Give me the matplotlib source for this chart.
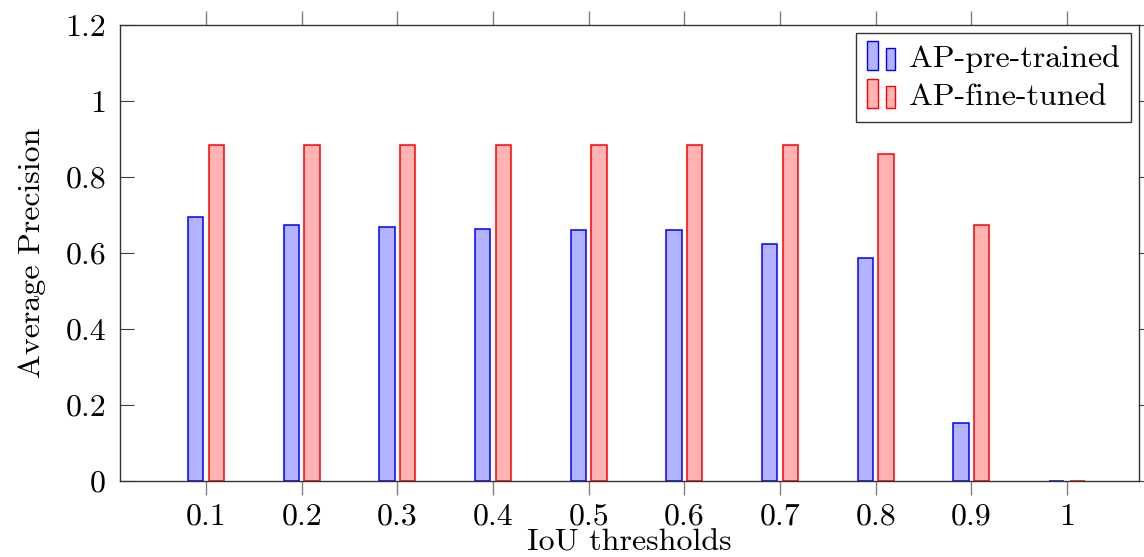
import matplotlib
matplotlib.use("Agg")
import matplotlib.pyplot as plt
from matplotlib.patches import Rectangle
from matplotlib.legend_handler import HandlerBase
import numpy as np

# IoU thresholds and average precision per model
thresholds = [0.1, 0.2, 0.3, 0.4, 0.5, 0.6, 0.7, 0.8, 0.9, 1.0]
tick_labels = ["0.1", "0.2", "0.3", "0.4", "0.5", "0.6", "0.7", "0.8", "0.9", "1"]
ap_pretrained = [0.694, 0.674, 0.668, 0.663, 0.661, 0.661, 0.625, 0.586, 0.153, 0.0]
ap_finetuned = [0.885, 0.885, 0.885, 0.885, 0.885, 0.885, 0.885, 0.860, 0.673, 0.0]
y_ticks = [0, 0.2, 0.4, 0.6, 0.8, 1.0, 1.2]
y_tick_labels = ["0", "0.2", "0.4", "0.6", "0.8", "1", "1.2"]

plt.rcParams["font.family"] = ["cmr10", "DejaVu Serif"]
plt.rcParams["axes.unicode_minus"] = False

BLUE_FILL = "#b3b3ff"
RED_FILL = "#ffb3b3"
FS = 23

fig = plt.figure(figsize=(11.44, 5.57), dpi=100)
ax = fig.add_axes([120 / 1144, 76 / 557, 1019 / 1144, 456 / 557])

x = np.array(thresholds)
width = 0.0162
offset = 0.0108
ax.bar(x - offset, ap_pretrained, width, color=BLUE_FILL, edgecolor="blue",
       linewidth=1.1, label="AP-pre-trained", zorder=2)
ax.bar(x + offset, ap_finetuned, width, color=RED_FILL, edgecolor="red",
       linewidth=1.1, label="AP-fine-tuned", zorder=2)

ax.set_xlim(0.0101, 1.0753)
ax.set_ylim(0, 1.2)

ax.set_xticks(thresholds)
ax.set_xticklabels(tick_labels, fontsize=FS)
ax.set_yticks(y_ticks)
ax.set_yticklabels(y_tick_labels, fontsize=FS)

ax.tick_params(axis="x", direction="out", top=True, bottom=True, length=10,
               width=1.0, color="#808080", pad=6)
ax.tick_params(axis="y", direction="in", left=True, right=False, length=10,
               width=0.8, color="#404040", pad=10)

# right-hand y ticks point outward, without labels
sec = ax.secondary_yaxis("right")
sec.set_yticks(y_ticks)
sec.tick_params(direction="out", length=6, width=0.8, color="#404040",
                labelright=False)
sec.spines["right"].set_visible(False)

for s in ax.spines.values():
    s.set_linewidth(1.0)
    s.set_color("#333333")

ax.set_xlabel("IoU thresholds", fontsize=FS, labelpad=-1)
ax.set_ylabel("Average Precision", fontsize=FS, labelpad=14)


class TwoBarHandler(HandlerBase):
    def __init__(self, fill, edge):
        super().__init__()
        self.fill = fill
        self.edge = edge

    def create_artists(self, legend, orig_handle, xdescent, ydescent,
                       width, height, fontsize, trans):
        bw = width * 0.36
        r1 = Rectangle((-xdescent, -ydescent - height * 0.15), bw, height * 1.3,
                       facecolor=self.fill, edgecolor=self.edge, linewidth=1.0,
                       transform=trans)
        r2 = Rectangle((-xdescent + width * 0.66, -ydescent - height * 0.15),
                       bw * 0.85, height * 1.0, facecolor=self.fill,
                       edgecolor=self.edge, linewidth=1.0, transform=trans)
        return [r1, r2]


handles, labels = ax.get_legend_handles_labels()
leg = ax.legend(handles, labels, loc="upper right", fontsize=FS,
                bbox_to_anchor=(0.992, 0.982), borderaxespad=0.0,
                frameon=True, fancybox=False,
                edgecolor="#333333", framealpha=1, borderpad=0.35,
                handlelength=0.9, handletextpad=0.4, labelspacing=0.3,
                handler_map={handles[0]: TwoBarHandler(BLUE_FILL, "blue"),
                             handles[1]: TwoBarHandler(RED_FILL, "red")})
leg.get_frame().set_linewidth(1.0)

fig.savefig("out.png", dpi=100)
